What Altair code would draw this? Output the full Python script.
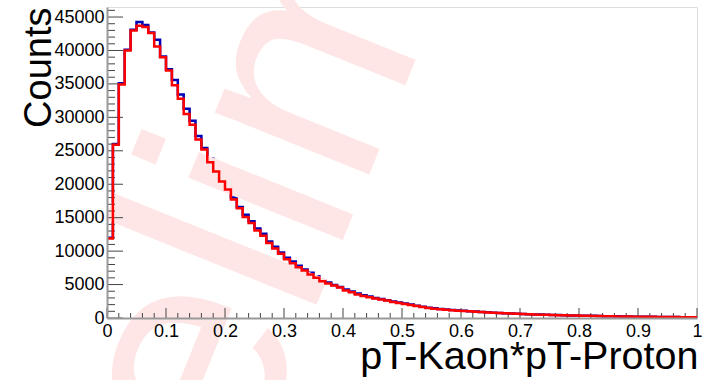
import altair as alt
import pandas as pd

# ---- data ----
n_bins = 100
x_min, x_max = 0.0, 1.0

red_counts = [
    11900, 25900, 34900, 40000, 43000, 43700, 43500, 42600, 40600, 39000,
    37000, 34800, 32800, 30500, 28900, 26700, 25200, 23300, 21900, 20400,
    19200, 17700, 16400, 15100, 14200, 13100, 12300, 11200, 10400, 9600,
    8800, 8200, 7600, 7100, 6500, 6000, 5500, 5150, 4850, 4550,
    4100, 3850, 3500, 3300, 3100, 2900, 2750, 2600, 2400, 2250,
    2100, 1950, 1800, 1650, 1500, 1400, 1300, 1250, 1150, 1100,
    1050, 1000, 950, 880, 830, 780, 740, 700, 660, 620,
    590, 560, 530, 500, 470, 440, 420, 400, 380, 360,
    340, 320, 300, 290, 270, 260, 240, 230, 215, 200,
    190, 180, 170, 160, 150, 140, 135, 125, 120, 110,
]

blue_counts = [
    12000, 26000, 35100, 40100, 43100, 44250, 43800, 42700, 41600, 39100,
    37200, 35600, 33400, 31300, 29500, 27200, 25400, 23800, 22200, 20800,
    19400, 18000, 16600, 15450, 14450, 13400, 12600, 11450, 10650, 9800,
    9000, 8450, 7800, 7250, 6750, 6250, 5650, 5300, 4950, 4650,
    4250, 3950, 3650, 3400, 3200, 3000, 2850, 2650, 2450, 2300,
    2150, 2000, 1850, 1700, 1550, 1450, 1350, 1280, 1180, 1120,
    1070, 1020, 970, 900, 850, 800, 760, 720, 680, 640,
    600, 570, 540, 510, 480, 450, 430, 410, 390, 370,
    350, 330, 320, 300, 280, 265, 250, 235, 220, 205,
    195, 185, 175, 165, 155, 145, 140, 130, 125, 115,
]

x_tick_values = [0, 0.1, 0.2, 0.3, 0.4, 0.5, 0.6, 0.7, 0.8, 0.9, 1]
x_minor_ticks = [0.02, 0.04, 0.06, 0.08, 0.12, 0.14, 0.16, 0.18, 0.22, 0.24, 0.26, 0.28,
                 0.32, 0.34, 0.36, 0.38, 0.42, 0.44, 0.46, 0.48, 0.52, 0.54, 0.56, 0.58,
                 0.62, 0.64, 0.66, 0.68, 0.72, 0.74, 0.76, 0.78, 0.82, 0.84, 0.86, 0.88,
                 0.92, 0.94, 0.96, 0.98]
y_tick_values = [0, 5000, 10000, 15000, 20000, 25000, 30000, 35000, 40000, 45000]
y_minor_ticks = [1000, 2000, 3000, 4000, 6000, 7000, 8000, 9000, 11000, 12000, 13000, 14000,
                 16000, 17000, 18000, 19000, 21000, 22000, 23000, 24000, 26000, 27000, 28000, 29000,
                 31000, 32000, 33000, 34000, 36000, 37000, 38000, 39000, 41000, 42000, 43000, 44000,
                 46000]

x_title = "pT-Kaon*pT-Proton"
y_title = "Counts"
watermark = ["Preliminary"]

# ---- layout ----
W, H = 590, 311
Y_MAX = 46500
FONT = "Liberation Sans"

width_bin = (x_max - x_min) / n_bins
edges = [x_min + i * width_bin for i in range(n_bins)] + [x_max]


def hist_df(counts):
    return pd.DataFrame({"x": edges, "y": list(counts) + [counts[-1]]})


xs = alt.Scale(domain=[x_min, x_max], nice=False, zero=False)
ys = alt.Scale(domain=[0, Y_MAX], nice=False)

x_axis = alt.Axis(
    values=x_tick_values, labelExpr="format(datum.value, '~g')", ticks=False,
    labelFont=FONT, labelFontSize=18, labelColor="black", labelPadding=4,
    labelBaseline="top", labelFlush=False, labelOverlap=False,
    domainColor="#999999", domainWidth=2, grid=False, zindex=1,
    title=x_title, titleFont=FONT, titleFontSize=39.5, titleFontWeight="normal",
    titleColor="black", titleAnchor="end", titleAlign="right",
    titleBaseline="alphabetic", titleX=W + 1, titleY=50,
)
y_axis = alt.Axis(
    values=y_tick_values, ticks=False, format="d",
    labelFont=FONT, labelFontSize=18, labelColor="black", labelPadding=3,
    labelFlush=False, labelOverlap=False,
    domainColor="#999999", domainWidth=2, grid=False, zindex=1,
    title=y_title, titleFont=FONT, titleFontSize=38, titleFontWeight="normal",
    titleColor="black", titleAnchor="end", titleAngle=270, titleAlign="right",
    titleBaseline="alphabetic", titleX=-57, titleY=0,
)


def X(field):
    return alt.X(field, scale=xs, axis=x_axis)


def Y(field):
    return alt.Y(field, scale=ys, axis=y_axis)


blue = alt.Chart(hist_df(blue_counts)).mark_line(
    interpolate="step-after", color="#0000b4", strokeWidth=2.5
).encode(x=X("x:Q"), y=Y("y:Q"))

red = alt.Chart(hist_df(red_counts)).mark_line(
    interpolate="step-after", color="#ff0000", strokeWidth=2.5
).encode(x=X("x:Q"), y=Y("y:Q"))

wm = alt.Chart(pd.DataFrame({"t": watermark})).mark_text(
    font=FONT, fontSize=315, color="#ffe6e6", angle=292, align="left",
    baseline="alphabetic",
).encode(text="t:N", x=alt.value(18), y=alt.value(772))

tick_color = "#444444"
xmaj = alt.Chart(pd.DataFrame({"v": x_tick_values})).mark_rule(color=tick_color, strokeWidth=1).encode(
    x=X("v:Q"), y=alt.value(H), y2=alt.value(H - 10))
xmin_ = alt.Chart(pd.DataFrame({"v": x_minor_ticks})).mark_rule(color=tick_color, strokeWidth=1).encode(
    x=X("v:Q"), y=alt.value(H), y2=alt.value(H - 5))
ymaj = alt.Chart(pd.DataFrame({"v": y_tick_values})).mark_rule(color=tick_color, strokeWidth=1).encode(
    y=Y("v:Q"), x=alt.value(0), x2=alt.value(16))
ymin_ = alt.Chart(pd.DataFrame({"v": y_minor_ticks})).mark_rule(color=tick_color, strokeWidth=1).encode(
    y=Y("v:Q"), x=alt.value(0), x2=alt.value(8))

chart = alt.layer(blue, wm, xmaj, xmin_, ymaj, ymin_, red).properties(
    width=W, height=H,
    autosize=alt.AutoSizeParams(type="none"),
    padding={"left": 107, "top": 7, "right": 20, "bottom": 62},
).configure_view(stroke="#666666", strokeWidth=1).configure(background="white")

chart.save("out.html", embed_options={"renderer": "svg", "actions": False})
